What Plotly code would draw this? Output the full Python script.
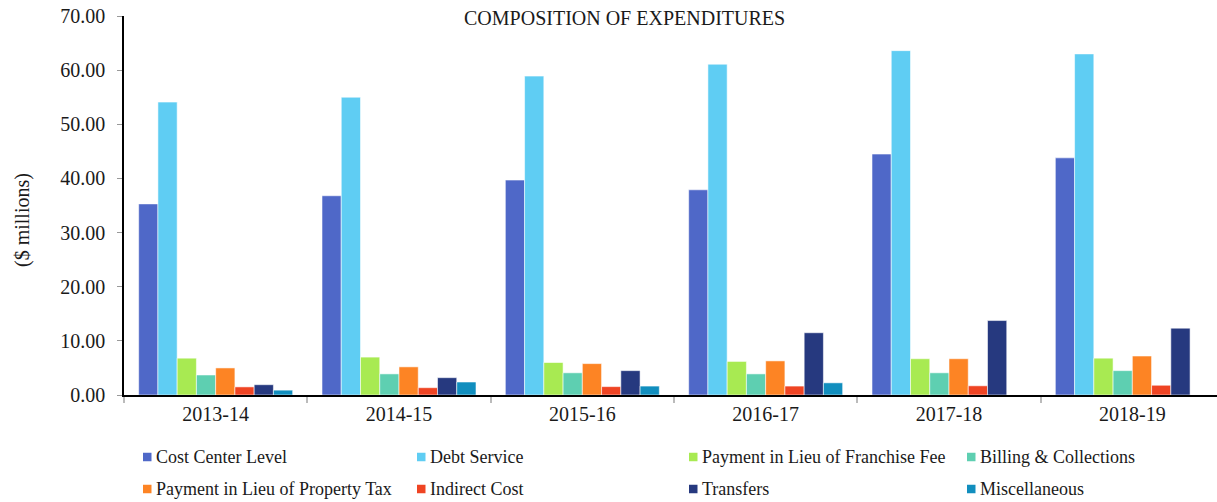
import plotly.graph_objects as go

years = ["2013-14", "2014-15", "2015-16", "2016-17", "2017-18", "2018-19"]

cost_center = [35.3, 36.8, 39.7, 37.9, 44.5, 43.8]
debt_service = [54.1, 55.0, 58.9, 61.1, 63.6, 63.0]
franchise_fee = [6.8, 7.0, 6.0, 6.2, 6.7, 6.8]
billing = [3.7, 3.9, 4.1, 3.9, 4.1, 4.5]
property_tax = [5.0, 5.2, 5.8, 6.3, 6.7, 7.2]
indirect = [1.5, 1.35, 1.55, 1.65, 1.7, 1.8]
transfers = [1.9, 3.2, 4.5, 11.5, 13.75, 12.35]
misc = [0.9, 2.4, 1.65, 2.25, None, None]

series_names = [
    "Cost Center Level", "Debt Service", "Payment in Lieu of Franchise Fee",
    "Billing & Collections", "Payment in Lieu of Property Tax", "Indirect Cost",
    "Transfers", "Miscellaneous",
]
series_values = [cost_center, debt_service, franchise_fee, billing,
                 property_tax, indirect, transfers, misc]
series_colors = ["#4F68C8", "#5FCDF3", "#A8EA52", "#5ECFB1",
                 "#FD8424", "#EF4423", "#26397F", "#118EBE"]

FONT = "Liberation Serif, Times New Roman, serif"
TXT = "#1a1a1a"

W, H = 1217, 502
ml, mr, mt, mb = 124, 0, 16, 107
pw = W - ml - mr
ph = H - mt - mb


def px_x(X):
    """screen pixel x -> paper x"""
    return (X - ml) / pw


def px_y(Y):
    """screen pixel y -> paper y"""
    return (H - mb - Y) / ph


fig = go.Figure()
for name, vals, color in zip(series_names, series_values, series_colors):
    fig.add_trace(go.Bar(
        x=years, y=vals, name=name, showlegend=False,
        marker=dict(color=color, line=dict(color="rgba(255,255,255,0.55)", width=1)),
    ))

# manual legend (4 columns x 2 rows)
col_px = [143, 417, 689, 967]
row_px = [457, 489]
sq = 8.5
shapes = []
annotations = []
for i, (name, color) in enumerate(zip(series_names, series_colors)):
    cx = col_px[i % 4]
    cy = row_px[i // 4]
    shapes.append(dict(
        type="rect", xref="paper", yref="paper",
        x0=px_x(cx), x1=px_x(cx + sq), y0=px_y(cy + sq / 2), y1=px_y(cy - sq / 2),
        fillcolor=color, line=dict(width=0),
    ))
    annotations.append(dict(
        text=name, xref="paper", yref="paper", x=px_x(cx + sq + 2.5), y=px_y(cy),
        xanchor="left", yanchor="middle", showarrow=False,
        font=dict(family=FONT, size=18, color=TXT),
    ))

annotations.append(dict(
    text="COMPOSITION OF EXPENDITURES", xref="paper", yref="paper",
    x=px_x(624), y=px_y(18), xanchor="center", yanchor="middle",
    showarrow=False, font=dict(family=FONT, size=20, color=TXT),
))
annotations.append(dict(
    text="($ millions)", xref="paper", yref="paper",
    x=px_x(22), y=px_y(220), xanchor="center", yanchor="middle", textangle=-90,
    showarrow=False, font=dict(family=FONT, size=20, color=TXT),
))

fig.update_layout(
    width=W, height=H,
    margin=dict(l=ml, r=mr, t=mt, b=mb, autoexpand=False),
    paper_bgcolor="white", plot_bgcolor="white",
    font=dict(family=FONT, size=20, color=TXT),
    barmode="group", bargap=0.16, bargroupgap=0,
    showlegend=False,
    xaxis=dict(
        range=[-0.5, 5.5 - 7 / 183.3],
        showline=True, linecolor="black", linewidth=1.5,
        ticks="outside", tickson="boundaries", ticklen=6, tickcolor="#BBBBBB", tickwidth=1.5,
        showgrid=False, tickfont=dict(family=FONT, size=20, color=TXT),
    ),
    yaxis=dict(
        range=[0, 70], dtick=10, tickformat=".2f",
        showline=True, linecolor="black", linewidth=1.5,
        ticks="outside", ticklen=5, tickcolor="#999999", tickwidth=1,
        ticklabelstandoff=8,
        showgrid=False, zeroline=False,
        tickfont=dict(family=FONT, size=20, color=TXT),
    ),
    shapes=shapes,
    annotations=annotations,
)

# remove the default 8px page margin so the figure fills the window exactly
fig.write_html(
    "out.html",
    config={"displayModeBar": False},
    post_script="document.body.style.margin='0';document.body.style.overflow='hidden';",
)
